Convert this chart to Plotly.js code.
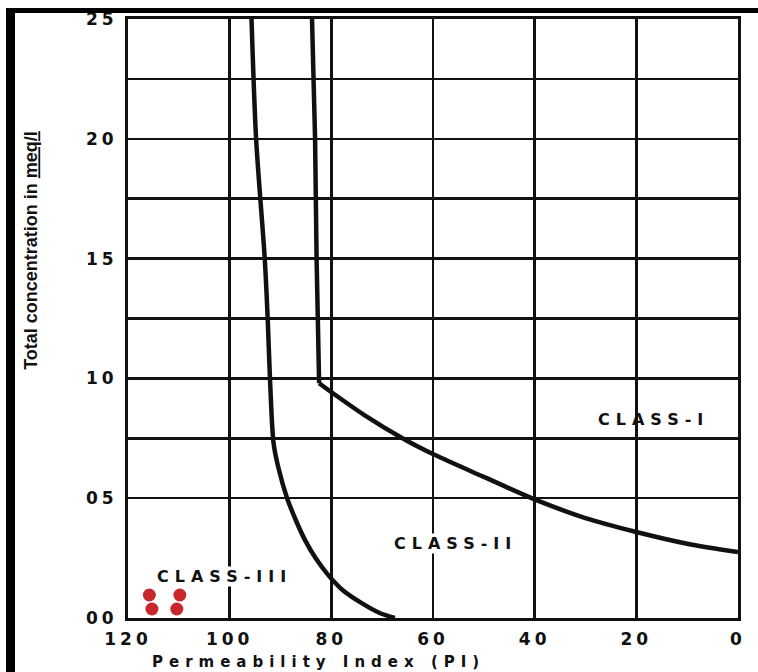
<!DOCTYPE html>
<html>
<head>
<meta charset="utf-8">
<script src="https://cdn.plot.ly/plotly-3.0.1.min.js"></script>
<style>
  html, body { margin: 0; padding: 0; background: #fff; overflow: hidden; }
  #chart { position: absolute; left: 0; top: 0; width: 758px; height: 672px; }
  .bar { position: absolute; background: #000; z-index: 5; }
</style>
</head>
<body>
<div id="chart"></div>
<div class="bar" style="left:6px;top:8px;width:9px;height:664px;"></div>
<div class="bar" style="left:6px;top:8px;width:752px;height:5px;"></div>
<script>
// ---- data ----
const xTickVals = [120, 100, 80, 60, 40, 20, 0];
const xTickText = ['120', '100', '80', '60', '40', '20', '0'];
const yTickVals = [0, 5, 10, 15, 20, 25];
const yTickText = ['00', '05', '10', '15', '20', '25'];
const yMinorGrid = [7.5, 12.5, 17.5, 22.5];

// Class I / Class II boundary: vertical part, then curve
const boundaryIUpper_x = [83.8, 83.2, 82.9, 82.6, 82.4];
const boundaryIUpper_y = [25.0, 20.0, 15.0, 12.0, 9.8];
const boundaryILower_x = [82.4, 80.0, 73.5, 65.4, 59.6, 50.0, 40.0, 30.0, 20.0, 10.0, 0.0];
const boundaryILower_y = [9.8, 9.43, 8.47, 7.43, 6.8, 5.89, 4.95, 4.17, 3.59, 3.1, 2.75];

// Class II / Class III boundary
const boundaryII_x = [95.7, 94.8, 93.1, 92.5, 92.06, 91.37, 90.46, 88.7, 87.0, 85.2, 83.1, 80.6, 77.8, 74.1, 70.5, 67.5];
const boundaryII_y = [25.0, 20.0, 15.0, 12.4, 9.93, 7.3, 6.31, 5.0, 4.09, 3.26, 2.50, 1.79, 1.17, 0.63, 0.21, 0.0];

// Sample points (red)
const sample_x = [115.8, 109.8, 115.3, 110.4];
const sample_y = [0.96, 0.96, 0.375, 0.375];

// Class labels
const classLabels = ['CLASS-I', 'CLASS-II', 'CLASS-III'];
const classLabel_x = [16.6, 55.5, 101.0];
const classLabel_y = [8.3, 3.13, 1.72];
const classLabel_bg = ['rgba(0,0,0,0)', '#ffffff', '#ffffff'];

const xTitle = 'Permeability Index (PI)';
const yTitle = 'Total concentration in <u>meq/l</u>';

// ---- drawing ----
const spaced = (t, s) => '<span style="letter-spacing:' + s + 'px">' + t + '</span>';
const ink = '#111111';
const boldFont = { family: 'DejaVu Sans, Verdana, sans-serif', color: ink, weight: 'bold' };

const traces = [
  {
    type: 'scatter', mode: 'lines', x: boundaryIUpper_x, y: boundaryIUpper_y,
    line: { color: ink, width: 4.5 }, hoverinfo: 'skip', showlegend: false
  },
  {
    type: 'scatter', mode: 'lines', x: boundaryILower_x, y: boundaryILower_y,
    line: { color: ink, width: 4.5, shape: 'spline', smoothing: 0.8 }, hoverinfo: 'skip', showlegend: false
  },
  {
    type: 'scatter', mode: 'lines', x: boundaryII_x, y: boundaryII_y,
    line: { color: ink, width: 4.5, shape: 'spline', smoothing: 0.8 }, hoverinfo: 'skip', showlegend: false
  },
  {
    type: 'scatter', mode: 'markers', x: sample_x, y: sample_y,
    marker: { color: '#c8282d', size: 13, symbol: 'circle', line: { width: 0 } },
    hoverinfo: 'skip', showlegend: false
  }
];

const annotations = classLabels.map((t, i) => ({
  x: classLabel_x[i], y: classLabel_y[i], xref: 'x', yref: 'y',
  text: spaced(t, 6), showarrow: false,
  font: Object.assign({}, boldFont, { size: 16 }),
  bgcolor: classLabel_bg[i], borderpad: 0
}));

annotations.push({
  xref: 'paper', yref: 'paper', x: 0.3115, y: -0.0735,
  xanchor: 'center', yanchor: 'middle',
  text: spaced(xTitle, 6), showarrow: false,
  font: Object.assign({}, boldFont, { size: 15 })
});
annotations.push({
  xref: 'paper', yref: 'paper', x: -0.158, y: 0.614,
  xanchor: 'center', yanchor: 'middle', textangle: -90,
  text: yTitle, showarrow: false,
  font: { family: 'Liberation Sans Narrow, Arial Narrow, Liberation Sans, sans-serif', size: 18, color: ink, weight: 'bold' }
});

const layout = {
  width: 758, height: 672,
  margin: { l: 128, r: 20, t: 19, b: 54 },
  paper_bgcolor: '#ffffff', plot_bgcolor: '#ffffff',
  showlegend: false,
  xaxis: {
    range: [120, 0], tickmode: 'array', tickvals: xTickVals,
    ticktext: xTickText.map(t => spaced(t, 4)),
    showgrid: true, gridcolor: ink, gridwidth: 2.5,
    showline: true, mirror: true, linecolor: ink, linewidth: 3,
    zeroline: false, ticks: '', ticklabelstandoff: 4,
    tickfont: Object.assign({}, boldFont, { size: 17 })
  },
  yaxis: {
    range: [0, 25], tickmode: 'array', tickvals: yTickVals,
    ticktext: yTickText.map(t => spaced(t, 4)),
    showgrid: true, gridcolor: ink, gridwidth: 2.5,
    minor: { tickmode: 'array', tickvals: yMinorGrid, showgrid: true, gridcolor: ink, gridwidth: 2.5, ticks: '' },
    showline: true, mirror: true, linecolor: ink, linewidth: 3,
    zeroline: false, ticks: '', ticklabelstandoff: 4,
    tickfont: Object.assign({}, boldFont, { size: 17 })
  },
  annotations: annotations
};

Plotly.newPlot('chart', traces, layout, { displayModeBar: false, staticPlot: true });
</script>
</body>
</html>
